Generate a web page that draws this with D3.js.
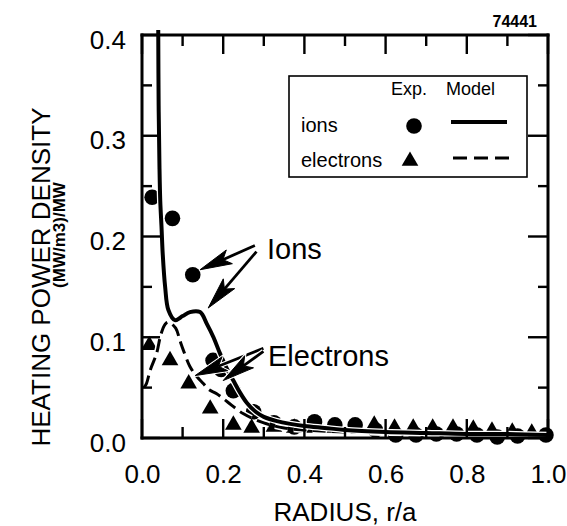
<!DOCTYPE html>
<html>
<head>
<meta charset="utf-8">
<script src="https://cdn.jsdelivr.net/npm/d3@7"></script>
<style>
  html, body { margin: 0; padding: 0; background: #fff; }
  svg { display: block; font-family: "Liberation Sans", Arial, sans-serif; }
</style>
</head>
<body>
<svg id="chart" width="567" height="526"></svg>
<script>
// model curves
const ionModelR = [0.040, 0.041, 0.043, 0.045, 0.048, 0.051, 0.057, 0.065, 0.081, 0.100, 0.118, 0.143, 0.160, 0.176, 0.192, 0.210, 0.225, 0.240, 0.258, 0.280, 0.300, 0.330, 0.365, 0.400, 0.450, 0.500, 0.600, 0.700, 0.800, 0.900, 1.000];
const ionModelP = [0.405, 0.330, 0.270, 0.235, 0.210, 0.183, 0.150, 0.127, 0.117, 0.121, 0.125, 0.125, 0.113, 0.100, 0.084, 0.068, 0.057, 0.046, 0.035, 0.026, 0.021, 0.017, 0.014, 0.012, 0.010, 0.008, 0.006, 0.005, 0.004, 0.004, 0.003];

const elecModelR = [0.005, 0.011, 0.020, 0.036, 0.046, 0.057, 0.066, 0.083, 0.094, 0.102, 0.118, 0.135, 0.151, 0.165, 0.184, 0.210, 0.250, 0.300, 0.350, 0.400, 0.500, 0.600, 0.700, 0.800, 0.900, 1.000];
const elecModelP = [0.050, 0.054, 0.067, 0.084, 0.102, 0.113, 0.115, 0.109, 0.096, 0.087, 0.071, 0.061, 0.054, 0.048, 0.044, 0.036, 0.024, 0.015, 0.010, 0.008, 0.006, 0.005, 0.004, 0.003, 0.002, 0.002];

// experimental points
const ionExpR = [0.025, 0.075, 0.125, 0.175, 0.195, 0.225, 0.275, 0.325, 0.375, 0.425, 0.475, 0.525, 0.575, 0.625, 0.675, 0.725, 0.775, 0.825, 0.875, 0.925, 0.995];
const ionExpP = [0.239, 0.218, 0.162, 0.077, 0.068, 0.047, 0.026, 0.015, 0.011, 0.016, 0.013, 0.013, 0.008, 0.003, 0.003, 0.004, 0.004, 0.003, 0.001, 0.002, 0.003];

const elecExpR = [0.018, 0.069, 0.115, 0.168, 0.225, 0.270, 0.325, 0.375, 0.425, 0.475, 0.525, 0.572, 0.622, 0.668, 0.716, 0.766, 0.816, 0.862, 0.912, 0.960];
const elecExpP = [0.092, 0.077, 0.054, 0.029, 0.013, 0.010, 0.011, 0.010, 0.010, 0.010, 0.010, 0.013, 0.010, 0.010, 0.010, 0.010, 0.009, 0.007, 0.006, 0.005];

// ticks
const xMajor = [0, 0.2, 0.4, 0.6, 0.8, 1.0];
const xMinor = [0.1, 0.3, 0.5, 0.7, 0.9];
const yMajor = [0, 0.1, 0.2, 0.3, 0.4];
const yMinor = [0.05, 0.15, 0.25, 0.35];

const svg = d3.select("#chart");
const plotLeft = 142, plotRight = 548, plotTop = 35, plotBottom = 438;

const x = d3.scaleLinear().domain([0, 1]).range([plotLeft, plotRight]);
const y = d3.scaleLinear().domain([0, 0.4]).range([plotBottom, plotTop]);
const fmt = d3.format(".1f");

// experimental markers
const tri = d3.symbol().type(d3.symbolTriangle).size(120);
svg.append("g").selectAll("path")
  .data(d3.zip(elecExpR, elecExpP))
  .join("path")
  .attr("d", tri)
  .attr("transform", d => `translate(${x(d[0])},${y(d[1])})`)
  .attr("fill", "#000");

svg.append("g").selectAll("circle")
  .data(d3.zip(ionExpR, ionExpP))
  .join("circle")
  .attr("cx", d => x(d[0]))
  .attr("cy", d => y(d[1]))
  .attr("r", 7.8)
  .attr("fill", "#000");

// model lines
const line = d3.line()
  .x(d => x(d[0]))
  .y(d => y(d[1]))
  .curve(d3.curveCatmullRom.alpha(0.5));

const elecModel = d3.zip(elecModelR, elecModelP);
const ionModel = d3.zip(ionModelR, ionModelP);

svg.append("path").datum(elecModel).attr("d", line)
  .attr("fill", "none").attr("stroke", "#fff").attr("stroke-width", 6)
  .attr("stroke-dasharray", "13,6");
svg.append("path").datum(elecModel).attr("d", line)
  .attr("fill", "none").attr("stroke", "#000").attr("stroke-width", 3)
  .attr("stroke-dasharray", "13,6");

svg.append("path").datum(ionModel).attr("d", line)
  .attr("fill", "none").attr("stroke", "#fff").attr("stroke-width", 6.5);
svg.append("path").datum(ionModel).attr("d", line)
  .attr("fill", "none").attr("stroke", "#000").attr("stroke-width", 4)
  .attr("stroke-linejoin", "round");

// tick labels from the axes
const gx = svg.append("g").attr("transform", `translate(0,${plotBottom})`)
  .call(d3.axisBottom(x).tickValues(xMajor).tickSize(0).tickPadding(27).tickFormat(fmt));
const gy = svg.append("g").attr("transform", `translate(${plotLeft},0)`)
  .call(d3.axisLeft(y).tickValues(yMajor).tickSize(0).tickPadding(16).tickFormat(fmt));
[gx, gy].forEach(g => {
  g.select(".domain").remove();
  g.selectAll("text").attr("font-size", 26).attr("fill", "#000")
    .attr("font-family", "Liberation Sans, Arial, sans-serif");
});
gy.selectAll("text").attr("dy", "0.5em");

// frame and inward ticks as filled bars
const fr = svg.append("g").attr("fill", "#000");
const bw = 3;
fr.append("rect").attr("x", plotLeft - bw / 2).attr("y", plotTop - bw / 2)
  .attr("width", plotRight - plotLeft + bw).attr("height", bw);
fr.append("rect").attr("x", plotLeft - bw / 2).attr("y", plotBottom - bw / 2)
  .attr("width", plotRight - plotLeft + bw).attr("height", bw);
fr.append("rect").attr("x", plotLeft - bw / 2).attr("y", plotTop - bw / 2)
  .attr("width", bw).attr("height", plotBottom - plotTop + bw);
fr.append("rect").attr("x", plotRight - bw / 2).attr("y", plotTop - bw / 2)
  .attr("width", bw).attr("height", plotBottom - plotTop + bw);

function xTicks(values, len) {
  fr.selectAll(null).data(values).join("rect")
    .attr("x", d => x(d) - 1.2).attr("width", 2.4)
    .attr("y", plotBottom - len).attr("height", len);
  fr.selectAll(null).data(values).join("rect")
    .attr("x", d => x(d) - 1.2).attr("width", 2.4)
    .attr("y", plotTop).attr("height", len);
}
function yTicks(values, len, lenRight) {
  fr.selectAll(null).data(values).join("rect")
    .attr("y", d => y(d) - 1.2).attr("height", 2.4)
    .attr("x", plotLeft).attr("width", len);
  fr.selectAll(null).data(values).join("rect")
    .attr("y", d => y(d) - 1.2).attr("height", 2.4)
    .attr("x", plotRight - lenRight).attr("width", lenRight);
}
xTicks(xMajor, 19);
xTicks(xMinor, 11);
yTicks(yMajor, 18, 20);
yTicks(yMinor, 10, 10);

// annotation arrows (tail at the label, tip at the curve)
function arrow(tail, tip) {
  const tx = x(tail[0]), ty = y(tail[1]);
  const px = x(tip[0]), py = y(tip[1]);
  const len = Math.hypot(tx - px, ty - py);
  const ux = (tx - px) / len, uy = (ty - py) / len;
  const nx = -uy, ny = ux;
  const L = 32, w = 7.5;
  const bx = px + ux * L, by = py + uy * L;
  const mx = px + ux * L * 0.78, my = py + uy * L * 0.78;
  const head = `M${px},${py}L${bx + nx * w},${by + ny * w}L${mx},${my}L${bx - nx * w},${by - ny * w}Z`;
  const g = svg.append("g");
  g.append("line").attr("x1", mx).attr("y1", my).attr("x2", tx).attr("y2", ty)
    .attr("stroke", "#fff").attr("stroke-width", 5);
  g.append("path").attr("d", head).attr("fill", "#fff").attr("stroke", "#fff").attr("stroke-width", 3);
  g.append("line").attr("x1", mx).attr("y1", my).attr("x2", tx).attr("y2", ty)
    .attr("stroke", "#000").attr("stroke-width", 2.8);
  g.append("path").attr("d", head).attr("fill", "#000").attr("stroke", "#000")
    .attr("stroke-width", 1).attr("stroke-linejoin", "round");
}

arrow([0.278, 0.191], [0.143, 0.167]);
arrow([0.282, 0.185], [0.163, 0.129]);
arrow([0.299, 0.089], [0.131, 0.062]);
arrow([0.299, 0.086], [0.200, 0.057]);

svg.append("text").attr("x", 267).attr("y", 259)
  .attr("font-size", 29).text("Ions");
svg.append("text").attr("x", 268).attr("y", 366)
  .attr("font-size", 29).text("Electrons");

// legend
const lg = svg.append("g");
lg.append("rect").attr("x", 289).attr("y", 76).attr("width", 238).attr("height", 101)
  .attr("fill", "#fff").attr("stroke", "#000").attr("stroke-width", 1.6);
lg.append("text").attr("x", 391).attr("y", 95).attr("font-size", 18).text("Exp.");
lg.append("text").attr("x", 446).attr("y", 95).attr("font-size", 18).text("Model");
lg.append("text").attr("x", 301).attr("y", 132).attr("font-size", 20).text("ions");
lg.append("text").attr("x", 301).attr("y", 167).attr("font-size", 20).text("electrons");
lg.append("circle").attr("cx", 414).attr("cy", 126).attr("r", 7.8).attr("fill", "#000");
lg.append("path").attr("d", tri).attr("transform", "translate(410,161)").attr("fill", "#000");
lg.append("line").attr("x1", 451).attr("x2", 507).attr("y1", 122).attr("y2", 122)
  .attr("stroke", "#000").attr("stroke-width", 4);
lg.append("line").attr("x1", 453).attr("x2", 510).attr("y1", 158).attr("y2", 158)
  .attr("stroke", "#000").attr("stroke-width", 3).attr("stroke-dasharray", "14,7");

// axis titles and figure number
svg.append("text").attr("x", 345).attr("y", 521).attr("text-anchor", "middle")
  .attr("font-size", 26).text("RADIUS, r/a");
svg.append("text").attr("transform", "translate(50,277) rotate(-90)")
  .attr("text-anchor", "middle").attr("font-size", 26).text("HEATING POWER DENSITY");
svg.append("text").attr("transform", "translate(65,235) rotate(-90)")
  .attr("text-anchor", "middle").attr("font-size", 17).attr("font-weight", "bold")
  .text("(MW/m3)/MW");
svg.append("text").attr("x", 537).attr("y", 27).attr("text-anchor", "end")
  .attr("font-size", 16).attr("font-weight", "bold").text("74441");
</script>
</body>
</html>
